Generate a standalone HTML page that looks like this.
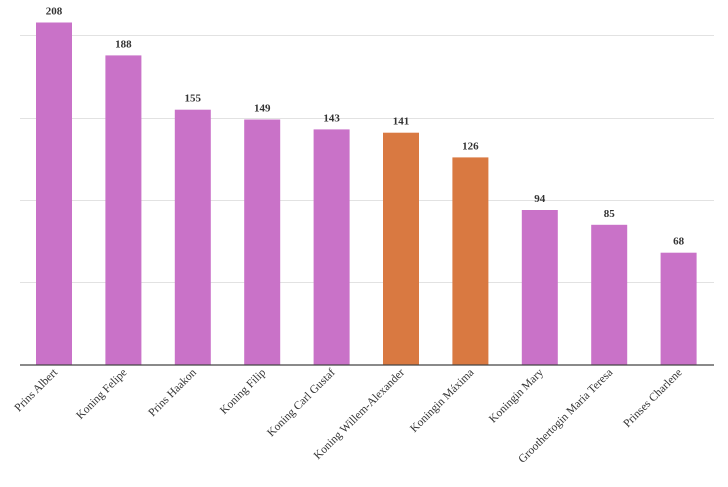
<!DOCTYPE html>
<html><head><meta charset="utf-8"><style>
html,body{margin:0;padding:0;background:#fff;}
svg{display:block;}
text{font-family:"Liberation Serif",serif;fill:#333;}
.v{font-size:11px;font-weight:bold;text-anchor:middle;}
.c{font-size:11.5px;text-anchor:end;}
</style></head><body>
<svg width="728" height="487" viewBox="0 0 728 487">
<g stroke="#e2e2e2" stroke-width="1">
<line x1="20" x2="714" y1="35.5" y2="35.5"/>
<line x1="20" x2="714" y1="118.5" y2="118.5"/>
<line x1="20" x2="714" y1="200.5" y2="200.5"/>
<line x1="20" x2="714" y1="282.5" y2="282.5"/>
</g>
<g fill="#c972c8">
<rect x="36" y="22.5" width="36" height="342"/>
<rect x="105.4" y="55.4" width="36" height="309.1"/>
<rect x="174.8" y="109.7" width="36" height="254.8"/>
<rect x="244.2" y="119.5" width="36" height="245"/>
<rect x="313.6" y="129.4" width="36" height="235.1"/>
<rect x="383" y="132.7" width="36" height="231.8" fill="#d97941"/>
<rect x="452.4" y="157.4" width="36" height="207.1" fill="#d97941"/>
<rect x="521.8" y="210" width="36" height="154.5"/>
<rect x="591.2" y="224.8" width="36" height="139.7"/>
<rect x="660.6" y="252.7" width="36" height="111.8"/>
</g>
<line x1="20" x2="714" y1="365" y2="365" stroke="#444" stroke-width="1.2"/>
<text class="v" x="54" y="14.5">208</text>
<text class="v" x="123.4" y="47.4">188</text>
<text class="v" x="192.8" y="101.7">155</text>
<text class="v" x="262.2" y="111.5">149</text>
<text class="v" x="331.6" y="121.4">143</text>
<text class="v" x="401" y="124.7">141</text>
<text class="v" x="470.4" y="149.4">126</text>
<text class="v" x="539.8" y="202">94</text>
<text class="v" x="609.2" y="216.8">85</text>
<text class="v" x="678.6" y="244.7">68</text>
<text class="c" transform="translate(58,373) rotate(-45)">Prins Albert</text>
<text class="c" transform="translate(127.4,373) rotate(-45)">Koning Felipe</text>
<text class="c" transform="translate(196.8,373) rotate(-45)">Prins Haakon</text>
<text class="c" transform="translate(266.2,373) rotate(-45)">Koning Filip</text>
<text class="c" transform="translate(335.6,373) rotate(-45)">Koning Carl Gustaf</text>
<text class="c" transform="translate(405,373) rotate(-45)">Koning Willem-Alexander</text>
<text class="c" transform="translate(474.4,373) rotate(-45)">Koningin Máxima</text>
<text class="c" transform="translate(543.8,373) rotate(-45)">Koningin Mary</text>
<text class="c" transform="translate(613.2,373) rotate(-45)">Groothertogin Maria Teresa</text>
<text class="c" transform="translate(682.6,373) rotate(-45)">Prinses Charlene</text>
</svg>
</body></html>
